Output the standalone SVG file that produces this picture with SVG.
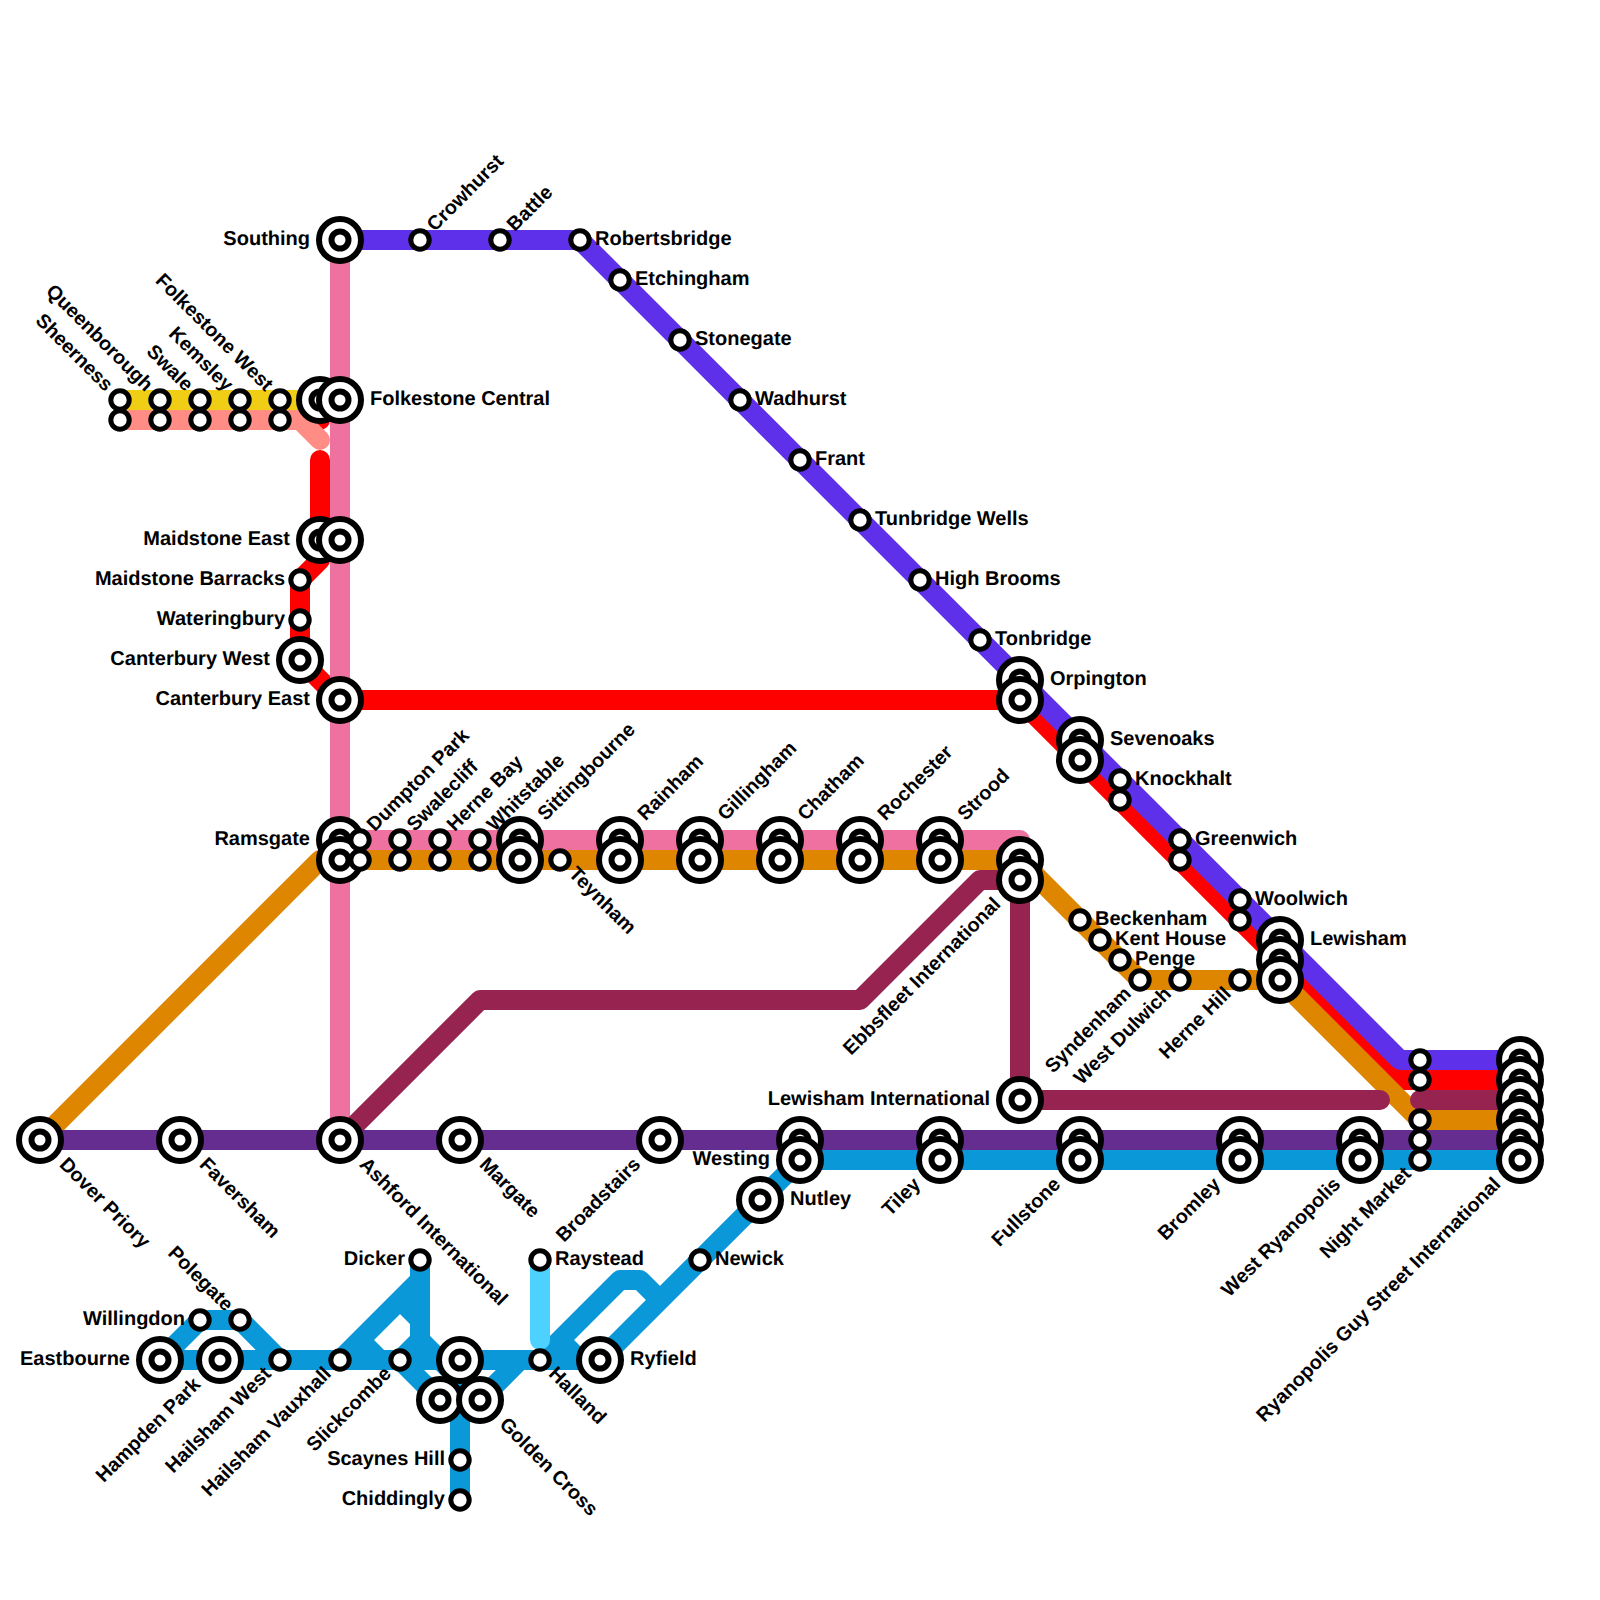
<svg xmlns="http://www.w3.org/2000/svg" width="1600" height="1600" viewBox="0 0 1600 1600">
<style>
.l{fill:none;stroke-width:20;stroke-linecap:round;stroke-linejoin:round}
.o{fill:#fff;stroke:#000;stroke-width:6}
.i{fill:#fff;stroke:#000;stroke-width:6}
.s{fill:#fff;stroke:#000;stroke-width:5}
text{font-family:"Liberation Sans",Arial,sans-serif;font-weight:700;font-size:20px;fill:#000;text-rendering:geometricPrecision}
text[transform]{font-size:19.75px}
.e{text-anchor:end}
</style>
<defs>
<g id="B"><circle class="o" r="21"/><circle class="i" r="8.5"/></g>
<circle id="S" class="s" r="9.2"/>
</defs>
<rect width="1600" height="1600" fill="#fff"/>
<g id="connectors">
<path class="l" stroke="#FF0000" d="M320 400V420M320 460V560L300 580V660L340 700H1020L1400 1080H1520"/>
<path class="l" stroke="#F0CE15" d="M120 400H320"/>
<path class="l" stroke="#FF8D85" d="M120 420H300L320 440"/>
<path class="l" stroke="#5F30E9" d="M340 240H580L1400 1060H1520"/>
<path class="l" stroke="#DF8600" d="M40 1140L320 860H1020L1140 980H1280L1420 1120H1520"/>
<path class="l" stroke="#EF71A0" d="M340 240V1140M340 840H1020V860"/>
<path class="l" stroke="#962350" d="M340 1140L480 1000H860L980 880H1020V1100H1380M1420 1100H1520"/>
<path class="l" stroke="#662D91" d="M40 1140H1520"/>
<path class="l" stroke="#0A98D9" d="M800 1160H1520M800 1160L600 1360M160 1360H600M160 1360L200 1320H240L280 1360M340 1360L420 1280M400 1300L420 1320M420 1260V1340L480 1400L520 1360M400 1360L440 1400M360 1340L380 1360M400 1360L420 1340M460 1360V1500M540 1360L620 1280H640L660 1300M560 1340L580 1360"/>
<path class="l" stroke="#4DD2FF" d="M540 1260V1340"/>
</g>
<g id="nodes">
<g id="southing"><use href="#B" x="340" y="240"/><text class="e" x="310" y="245">Southing</text></g>
<g id="crowhurst"><use href="#S" x="420" y="240"/><text transform="translate(420 240) rotate(-45)" x="16" y="5">Crowhurst</text></g>
<g id="battle"><use href="#S" x="500" y="240"/><text transform="translate(500 240) rotate(-45)" x="16" y="5">Battle</text></g>
<g id="robertsbridge"><use href="#S" x="580" y="240"/><text x="595" y="245">Robertsbridge</text></g>
<g id="etchingham"><use href="#S" x="620" y="280"/><text x="635" y="285">Etchingham</text></g>
<g id="stonegate"><use href="#S" x="680" y="340"/><text x="695" y="345">Stonegate</text></g>
<g id="wadhurst"><use href="#S" x="740" y="400"/><text x="755" y="405">Wadhurst</text></g>
<g id="frant"><use href="#S" x="800" y="460"/><text x="815" y="465">Frant</text></g>
<g id="tunbridge-wells"><use href="#S" x="860" y="520"/><text x="875" y="525">Tunbridge Wells</text></g>
<g id="high-brooms"><use href="#S" x="920" y="580"/><text x="935" y="585">High Brooms</text></g>
<g id="tonbridge"><use href="#S" x="980" y="640"/><text x="995" y="645">Tonbridge</text></g>

<g id="sheerness"><use href="#S" x="120" y="400"/><use href="#S" x="120" y="420"/><text transform="translate(120 400) rotate(45)" class="e" x="-16" y="5">Sheerness</text></g>
<g id="queenborough"><use href="#S" x="160" y="400"/><use href="#S" x="160" y="420"/><text transform="translate(160 400) rotate(45)" class="e" x="-16" y="5">Queenborough</text></g>
<g id="swale"><use href="#S" x="200" y="400"/><use href="#S" x="200" y="420"/><text transform="translate(200 400) rotate(45)" class="e" x="-16" y="5">Swale</text></g>
<g id="kemsley"><use href="#S" x="240" y="400"/><use href="#S" x="240" y="420"/><text transform="translate(240 400) rotate(45)" class="e" x="-16" y="5">Kemsley</text></g>
<g id="folkestone-west"><use href="#S" x="280" y="400"/><use href="#S" x="280" y="420"/><text transform="translate(280 400) rotate(45)" class="e" x="-16" y="5">Folkestone West</text></g>
<g id="folkestone-a"><use href="#B" x="320" y="400"/></g>
<g id="folkestone-central"><use href="#B" x="340" y="400"/><text x="370" y="405">Folkestone Central</text></g>
<g id="maidstone-east"><use href="#B" x="320" y="540"/><text class="e" x="290" y="545">Maidstone East</text></g>
<g id="maidstone-b"><use href="#B" x="340" y="540"/></g>
<g id="maidstone-barracks"><use href="#S" x="300" y="580"/><text class="e" x="285" y="585">Maidstone Barracks</text></g>
<g id="wateringbury"><use href="#S" x="300" y="620"/><text class="e" x="285" y="625">Wateringbury</text></g>
<g id="canterbury-west"><use href="#B" x="300" y="660"/><text class="e" x="270" y="665">Canterbury West</text></g>
<g id="canterbury-east"><use href="#B" x="340" y="700"/><text class="e" x="310" y="705">Canterbury East</text></g>

<g id="orpington"><use href="#B" x="1020" y="680"/><use href="#B" x="1020" y="700"/><text x="1050" y="685">Orpington</text></g>
<g id="sevenoaks"><use href="#B" x="1080" y="740"/><use href="#B" x="1080" y="760"/><text x="1110" y="745">Sevenoaks</text></g>
<g id="knockhalt"><use href="#S" x="1120" y="780"/><use href="#S" x="1120" y="800"/><text x="1135" y="785">Knockhalt</text></g>
<g id="greenwich"><use href="#S" x="1180" y="840"/><use href="#S" x="1180" y="860"/><text x="1195" y="845">Greenwich</text></g>
<g id="woolwich"><use href="#S" x="1240" y="900"/><use href="#S" x="1240" y="920"/><text x="1255" y="905">Woolwich</text></g>
<g id="lewisham"><use href="#B" x="1280" y="940"/><use href="#B" x="1280" y="960"/><use href="#B" x="1280" y="980"/><text x="1310" y="945">Lewisham</text></g>

<g id="ramsgate"><use href="#B" x="340" y="840"/><use href="#B" x="340" y="860"/><text class="e" x="310" y="845">Ramsgate</text></g>
<g id="dumpton-park"><use href="#S" x="360" y="840"/><use href="#S" x="360" y="860"/><text transform="translate(360 840) rotate(-45)" x="16" y="5">Dumpton Park</text></g>
<g id="swalecliff"><use href="#S" x="400" y="840"/><use href="#S" x="400" y="860"/><text transform="translate(400 840) rotate(-45)" x="16" y="5">Swalecliff</text></g>
<g id="herne-bay"><use href="#S" x="440" y="840"/><use href="#S" x="440" y="860"/><text transform="translate(440 840) rotate(-45)" x="16" y="5">Herne Bay</text></g>
<g id="whitstable"><use href="#S" x="480" y="840"/><use href="#S" x="480" y="860"/><text transform="translate(480 840) rotate(-45)" x="16" y="5">Whitstable</text></g>
<g id="sittingbourne"><use href="#B" x="520" y="840"/><use href="#B" x="520" y="860"/><text transform="translate(520 840) rotate(-45)" x="31" y="5">Sittingbourne</text></g>
<g id="teynham"><use href="#S" x="560" y="860"/><text transform="translate(560 860) rotate(45)" x="16" y="5">Teynham</text></g>
<g id="rainham"><use href="#B" x="620" y="840"/><use href="#B" x="620" y="860"/><text transform="translate(620 840) rotate(-45)" x="31" y="5">Rainham</text></g>
<g id="gillingham"><use href="#B" x="700" y="840"/><use href="#B" x="700" y="860"/><text transform="translate(700 840) rotate(-45)" x="31" y="5">Gillingham</text></g>
<g id="chatham"><use href="#B" x="780" y="840"/><use href="#B" x="780" y="860"/><text transform="translate(780 840) rotate(-45)" x="31" y="5">Chatham</text></g>
<g id="rochester"><use href="#B" x="860" y="840"/><use href="#B" x="860" y="860"/><text transform="translate(860 840) rotate(-45)" x="31" y="5">Rochester</text></g>
<g id="strood"><use href="#B" x="940" y="840"/><use href="#B" x="940" y="860"/><text transform="translate(940 840) rotate(-45)" x="31" y="5">Strood</text></g>
<g id="ebbsfleet-international"><use href="#B" x="1020" y="860"/><use href="#B" x="1020" y="880"/><text transform="translate(1020 880) rotate(-45)" class="e" x="-31" y="5">Ebbsfleet International</text></g>

<g id="beckenham"><use href="#S" x="1080" y="920"/><text x="1095" y="925">Beckenham</text></g>
<g id="kent-house"><use href="#S" x="1100" y="940"/><text x="1115" y="945">Kent House</text></g>
<g id="penge"><use href="#S" x="1120" y="960"/><text x="1135" y="965">Penge</text></g>
<g id="syndenham"><use href="#S" x="1140" y="980"/><text transform="translate(1140 980) rotate(-45)" class="e" x="-16" y="5">Syndenham</text></g>
<g id="west-dulwich"><use href="#S" x="1180" y="980"/><text transform="translate(1180 980) rotate(-45)" class="e" x="-16" y="5">West Dulwich</text></g>
<g id="herne-hill"><use href="#S" x="1240" y="980"/><text transform="translate(1240 980) rotate(-45)" class="e" x="-16" y="5">Herne Hill</text></g>
<g id="lewisham-international"><use href="#B" x="1020" y="1100"/><text class="e" x="990" y="1105">Lewisham International</text></g>

<g id="dover-priory"><use href="#B" x="40" y="1140"/><text transform="translate(40 1140) rotate(45)" x="31" y="5">Dover Priory</text></g>
<g id="faversham"><use href="#B" x="180" y="1140"/><text transform="translate(180 1140) rotate(45)" x="31" y="5">Faversham</text></g>
<g id="ashford-international"><use href="#B" x="340" y="1140"/><text transform="translate(340 1140) rotate(45)" x="31" y="5">Ashford International</text></g>
<g id="margate"><use href="#B" x="460" y="1140"/><text transform="translate(460 1140) rotate(45)" x="31" y="5">Margate</text></g>
<g id="broadstairs"><use href="#B" x="660" y="1140"/><text transform="translate(660 1140) rotate(-45)" class="e" x="-31" y="5">Broadstairs</text></g>
<g id="westing"><use href="#B" x="800" y="1140"/><use href="#B" x="800" y="1160"/><text class="e" x="770" y="1165">Westing</text></g>
<g id="tiley"><use href="#B" x="940" y="1140"/><use href="#B" x="940" y="1160"/><text transform="translate(940 1160) rotate(-45)" class="e" x="-31" y="5">Tiley</text></g>
<g id="fullstone"><use href="#B" x="1080" y="1140"/><use href="#B" x="1080" y="1160"/><text transform="translate(1080 1160) rotate(-45)" class="e" x="-31" y="5">Fullstone</text></g>
<g id="bromley"><use href="#B" x="1240" y="1140"/><use href="#B" x="1240" y="1160"/><text transform="translate(1240 1160) rotate(-45)" class="e" x="-31" y="5">Bromley</text></g>
<g id="west-ryanopolis"><use href="#B" x="1360" y="1140"/><use href="#B" x="1360" y="1160"/><text transform="translate(1360 1160) rotate(-45)" class="e" x="-31" y="5">West Ryanopolis</text></g>
<g id="night-market"><use href="#S" x="1420" y="1060"/><use href="#S" x="1420" y="1080"/><use href="#S" x="1420" y="1120"/><use href="#S" x="1420" y="1140"/><use href="#S" x="1420" y="1160"/><text transform="translate(1420 1160) rotate(-45)" class="e" x="-16" y="5">Night Market</text></g>
<g id="ryanopolis-guy-street-international"><use href="#B" x="1520" y="1060"/><use href="#B" x="1520" y="1080"/><use href="#B" x="1520" y="1100"/><use href="#B" x="1520" y="1120"/><use href="#B" x="1520" y="1140"/><use href="#B" x="1520" y="1160"/><text transform="translate(1520 1160) rotate(-45)" class="e" x="-31" y="5">Ryanopolis Guy Street International</text></g>

<g id="nutley"><use href="#B" x="760" y="1200"/><text x="790" y="1205">Nutley</text></g>
<g id="newick"><use href="#S" x="700" y="1260"/><text x="715" y="1265">Newick</text></g>
<g id="raystead"><use href="#S" x="540" y="1260"/><text x="555" y="1265">Raystead</text></g>
<g id="dicker"><use href="#S" x="420" y="1260"/><text class="e" x="405" y="1265">Dicker</text></g>
<g id="willingdon"><use href="#S" x="200" y="1320"/><text class="e" x="185" y="1325">Willingdon</text></g>
<g id="polegate"><use href="#S" x="240" y="1320"/><text transform="translate(240 1320) rotate(45)" class="e" x="-16" y="5">Polegate</text></g>
<g id="eastbourne"><use href="#B" x="160" y="1360"/><text class="e" x="130" y="1365">Eastbourne</text></g>
<g id="hampden-park"><use href="#B" x="220" y="1360"/><text transform="translate(220 1360) rotate(-45)" class="e" x="-31" y="5">Hampden Park</text></g>
<g id="hailsham-west"><use href="#S" x="280" y="1360"/><text transform="translate(280 1360) rotate(-45)" class="e" x="-16" y="5">Hailsham West</text></g>
<g id="hailsham-vauxhall"><use href="#S" x="340" y="1360"/><text transform="translate(340 1360) rotate(-45)" class="e" x="-16" y="5">Hailsham Vauxhall</text></g>
<g id="slickcombe"><use href="#S" x="400" y="1360"/><text transform="translate(400 1360) rotate(-45)" class="e" x="-16" y="5">Slickcombe</text></g>
<g id="central-a"><use href="#B" x="460" y="1360"/></g>
<g id="central-b"><use href="#B" x="440" y="1400"/></g>
<g id="golden-cross"><use href="#B" x="480" y="1400"/><text transform="translate(480 1400) rotate(45)" x="31" y="5">Golden Cross</text></g>
<g id="scaynes-hill"><use href="#S" x="460" y="1460"/><text class="e" x="445" y="1465">Scaynes Hill</text></g>
<g id="chiddingly"><use href="#S" x="460" y="1500"/><text class="e" x="445" y="1505">Chiddingly</text></g>
<g id="halland"><use href="#S" x="540" y="1360"/><text transform="translate(540 1360) rotate(45)" x="16" y="5">Halland</text></g>
<g id="ryfield"><use href="#B" x="600" y="1360"/><text x="630" y="1365">Ryfield</text></g>
</g>
</svg>
